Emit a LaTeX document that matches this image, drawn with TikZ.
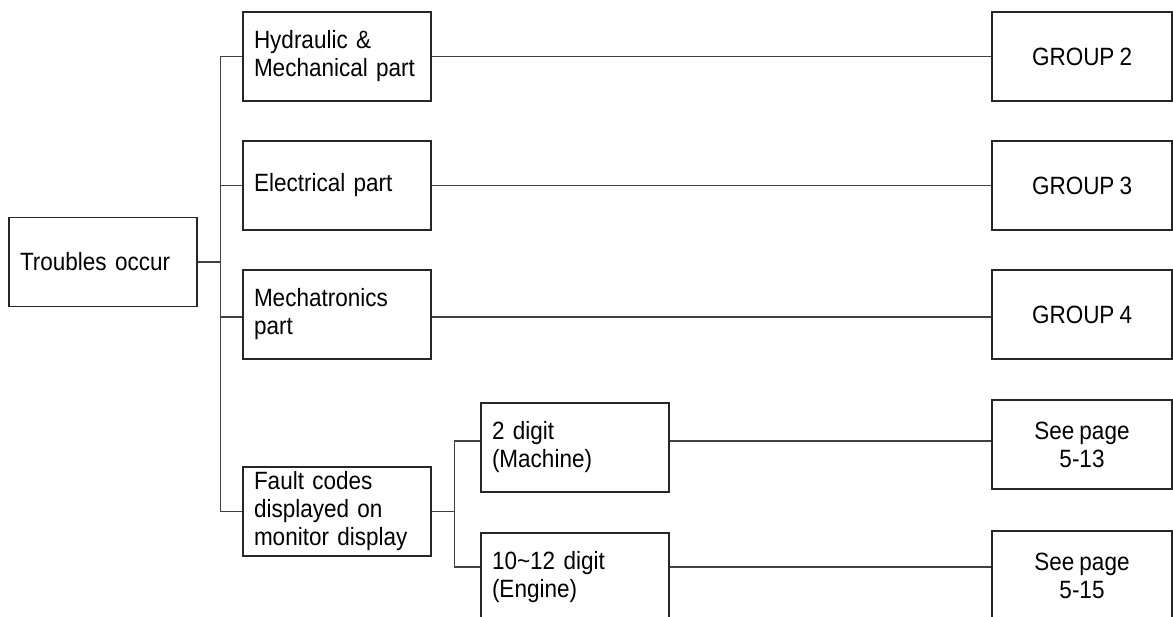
\documentclass[tikz,border=0pt]{standalone}
\usepackage{fontspec}
\setmainfont{Liberation Sans}[FakeStretch=0.9,WordSpace=0.8]

\begin{document}
\begin{tikzpicture}[x=1pt,y=-1pt,
    every node/.style={draw=black!85,line width=1.6pt,font=\fontsize{25}{28}\selectfont,minimum height=89pt},
    part/.style={text width=166pt,inner xsep=11pt,align=left},
    group/.style={minimum width=180pt,inner xsep=0pt,align=center},
    wire/.style={draw=black!75,line width=1.2pt}]

      \useasboundingbox (0,0) rectangle (1173,617);
      \clip (0,0) rectangle (1173,617);

      \node[part] (T) at (103,262) {Troubles occur};
        \draw[wire] (T.east) -- ++(23,0) coordinate (K);

      \node[part] (H) at (337,56.5) {Hydraulic \&\\Mechanical part};
        \draw[wire] (H.west) -| (K);

      \node[part] (E) at (337,185.5) {Electrical part};
        \draw[wire] (E.west) -| (K);

      \node[part] (M) at (337,314.5) {Mechatronics\\part};
        \draw[wire] ([yshift=-2.5pt]M.west) -| (K);

      \node[part] (F) at (337,511.5) {Fault codes\\displayed on\\monitor display};
        \draw[wire] (F.west) -| (K);
        \draw[wire] (F.east) -- ++(23,0) coordinate (L);

      \node[part] (D2) at (575,447.5) {2 digit\\(Machine)};
        \draw[wire] ([yshift=6.5pt]D2.west) -| (L);

      \node[part] (D10) at (575,577.5) {10\textasciitilde12 digit\\(Engine)};
        \draw[wire] ([yshift=10.5pt]D10.west) -| (L);

      \node[group] (G2) at (1082,56.5) {GROUP 2};
        \draw[wire] (H) -- (G2);

      \node[group] (G3) at (1082,185.5) {GROUP 3};
        \draw[wire] (E) -- (G3);

      \node[group] (G4) at (1082,314.5) {GROUP 4};
        \draw[wire] ([yshift=-2.5pt]M.east) -- ([yshift=-2.5pt]G4.west);

      \node[group] (P13) at (1082,444.5) {See page\\5-13};
        \draw[wire] ([yshift=6.5pt]D2.east) -- ([yshift=3.5pt]P13.west);

      \node[group] (P15) at (1082,575.5) {See page\\5-15};
        \draw[wire] ([yshift=10.5pt]D10.east) -- ([yshift=8.5pt]P15.west);

\end{tikzpicture}
\end{document}
